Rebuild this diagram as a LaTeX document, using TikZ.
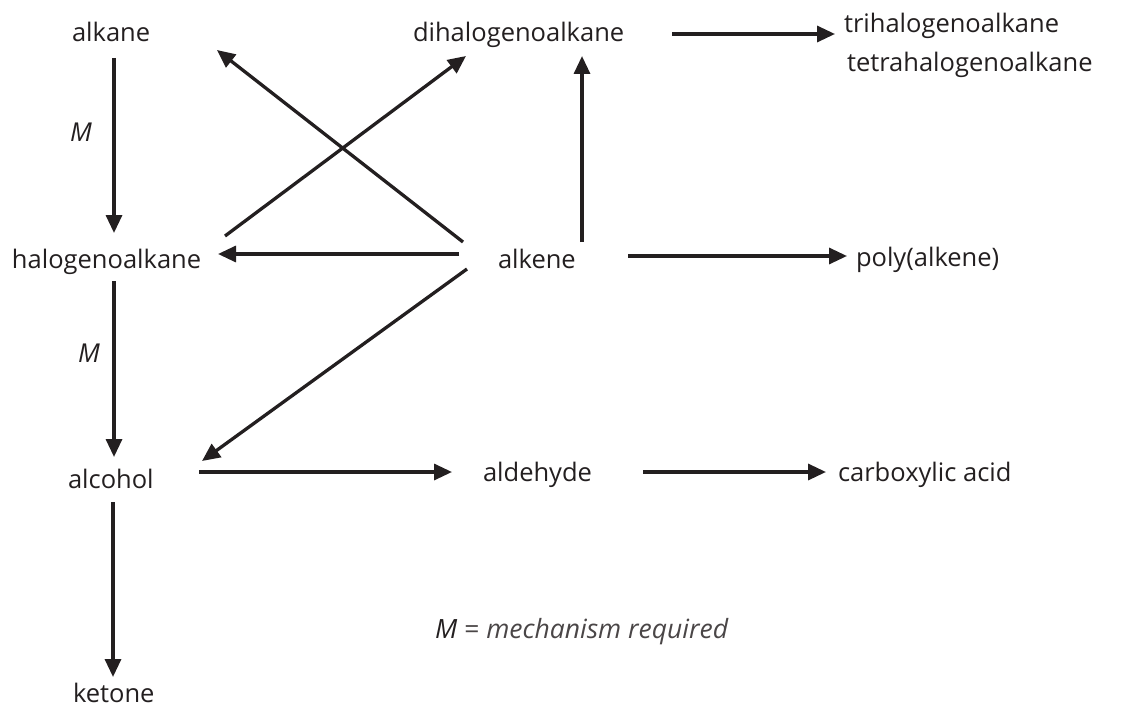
\documentclass[tikz,border=0pt]{standalone}
\usepackage{fontspec}
\setmainfont{Open Sans}
\usetikzlibrary{arrows.meta,calc}
\definecolor{ink}{HTML}{231F20}
\definecolor{lightink}{HTML}{4A4647}
\begin{document}
\begin{tikzpicture}[x=1pt,y=-1pt,
  lbl/.style={anchor=base west,inner sep=0pt,outer sep=0pt,text=ink,font=\fontsize{25.5}{30}\selectfont},
  mlbl/.style={anchor=base west,inner sep=0pt,outer sep=0pt,text=ink,font=\fontsize{26}{30}\selectfont\itshape},
  arr/.style={draw=ink,line width=3.3pt,-{Triangle[length=18pt,width=16pt]}}]
\useasboundingbox (0,0) rectangle (1126,706);
\node[lbl] (alkane) at (72,42) {alkane};
\node[lbl] (dihalo) at (413,42) {dihalogenoalkane};
\node[lbl] (tri) at (844,33) {trihalogenoalkane};
\node[lbl] (tetra) at (847,72) {tetrahalogenoalkane};
\node[lbl] (halo) at (12,268) {halogenoalkane};
\node[lbl] (alkene) at (498,268) {alkene};
\node[lbl] (poly) at (856,266) {poly(alkene)};
\node[lbl] (alcohol) at (68,488) {alcohol};
\node[lbl] (aldehyde) at (483,481) {aldehyde};
\node[lbl] (carbox) at (838,481) {carboxylic acid};
\node[lbl] (ketone) at (73,702) {ketone};
\node[mlbl] (m1) at (70,141) {M};
\node[mlbl] (m2) at (78,362) {M};
\node[anchor=base west,inner sep=0pt,font=\fontsize{26.5}{30}\selectfont] (legend) at (435,638) {\textcolor{ink}{\itshape M}\textcolor{lightink}{\ =\ \itshape mechanism required}};
% connectors
\draw[arr] ($(alkane.base west)+(42,16)$) -- ($(halo.base west)+(102,-35)$);
\draw[arr] ($(alkene.base west)+(-35,-26)$) -- ($(alkane.base west)+(145,8)$);
\draw[arr] ($(halo.base west)+(213,-32)$) -- ($(dihalo.base west)+(53,14)$);
\draw[arr] ($(alkene.base west)+(-39,-14)$) -- ($(halo.base west)+(206,-14)$);
\draw[arr] ($(alkene.base west)+(84,-26)$) -- ($(dihalo.base west)+(169,14)$);
\draw[arr] ($(dihalo.base west)+(259,-8)$) -- ($(tri.base west)+(-9,1)$);
\draw[arr] ($(alkene.base west)+(130,-12)$) -- ($(poly.base west)+(-9,-10)$);
\draw[arr] ($(alkene.base west)+(-31,1)$) -- ($(alcohol.base west)+(134,-27)$);
\draw[arr] ($(halo.base west)+(102,13)$) -- ($(alcohol.base west)+(46,-31)$);
\draw[arr] ($(alcohol.base west)+(131,-16)$) -- ($(aldehyde.base west)+(-31,-9)$);
\draw[arr] ($(aldehyde.base west)+(160,-9)$) -- ($(carbox.base west)+(-12,-9)$);
\draw[arr] ($(alcohol.base west)+(45,14)$) -- ($(ketone.base west)+(40,-25)$);
\end{tikzpicture}
\end{document}
